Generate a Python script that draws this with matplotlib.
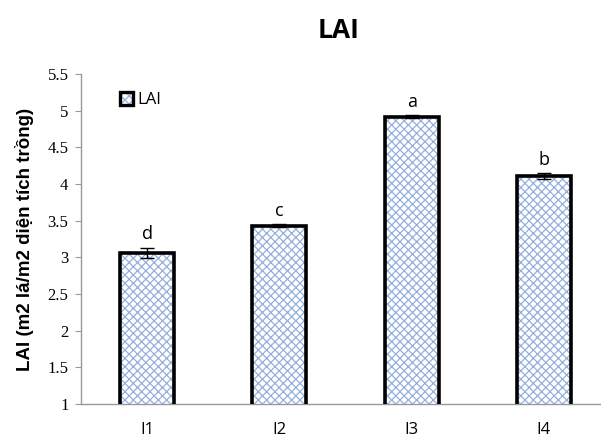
import matplotlib.pyplot as plt
import matplotlib.patches as mpatches
import numpy as np

# Data
categories = ['I1', 'I2', 'I3', 'I4']
lai_values = [3.06, 3.43, 4.92, 4.11]
lai_errors = [0.07, 0.02, 0.02, 0.04]
letters = ['d', 'c', 'a', 'b']

HATCH_COLOR = '#94afdd'

plt.rcParams['hatch.linewidth'] = 0.9
fig = plt.figure(figsize=(6.01, 4.42), dpi=100)
# axes extends a bit past the right edge, like the cropped original
ax = fig.add_axes([81/601, 38/442, 529/601, 330/442])

x = np.arange(len(categories))
ax.bar(x, lai_values, width=0.41, color='white', edgecolor=HATCH_COLOR,
       hatch='xxxx', linewidth=0, zorder=2)
ax.bar(x, lai_values, width=0.41, fill=False, edgecolor='black', linewidth=2.6, zorder=3)
ax.errorbar(x, lai_values, yerr=lai_errors, fmt='none', ecolor='black',
            elinewidth=1, capsize=5, capthick=1, zorder=4)

for xi, v, e, lt in zip(x, lai_values, lai_errors, letters):
    ax.text(xi, v + e + 0.06, lt, ha='center', va='bottom', fontsize=13,
            family='Open Sans')

ax.set_xlim(-0.5, 3.5)
ax.set_ylim(1, 5.5)
ax.set_yticks(np.arange(1, 5.51, 0.5))
ax.set_yticklabels(['1', '1.5', '2', '2.5', '3', '3.5', '4', '4.5', '5', '5.5'],
                   family='Liberation Serif', fontsize=12)
ax.set_xticks(x)
ax.set_xticklabels(categories, family='Open Sans', fontsize=12)
ax.tick_params(axis='x', length=0, pad=13)
ax.tick_params(axis='y', length=4, color='#999999', pad=5)
for s in ['top', 'right']:
    ax.spines[s].set_visible(False)
for s in ['left', 'bottom']:
    ax.spines[s].set_color('#999999')
    ax.spines[s].set_linewidth(1)

ax.set_ylabel('LAI (m2 lá/m2 diện tích trồng)', fontsize=13.5, fontweight='bold',
              family='Liberation Sans', labelpad=10)
fig.text(0.563, 0.93, 'LAI', ha='center', va='center', fontsize=19,
         fontweight='bold', family='Open Sans')

h_fill = mpatches.Patch(facecolor='white', edgecolor=HATCH_COLOR, hatch='xxxx', linewidth=0)
h_edge = mpatches.Patch(fill=False, edgecolor='black', linewidth=2.4)
ax.legend([(h_fill, h_edge)], ['LAI'], loc='upper left', bbox_to_anchor=(0.045, 0.99),
          frameon=False, prop={'family': 'Open Sans', 'size': 12},
          handlelength=0.8, handleheight=0.8, handletextpad=0.25)

plt.savefig('out.png', dpi=100)
